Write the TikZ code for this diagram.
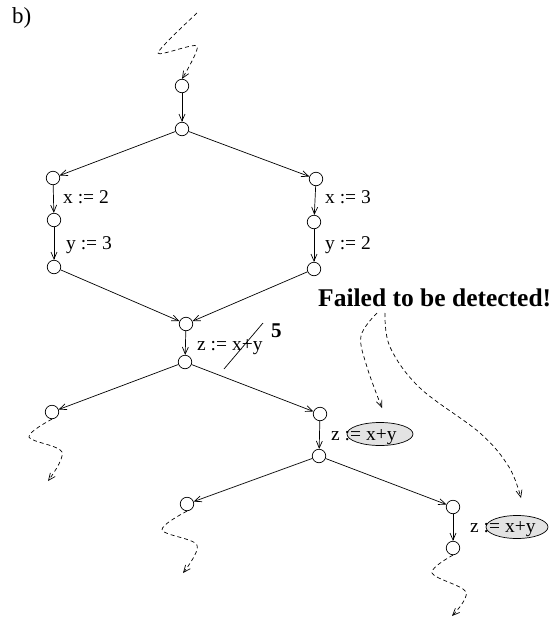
\documentclass[tikz,border=0pt]{standalone}
\usepackage{fontspec}
\setmainfont{Liberation Serif}
\usetikzlibrary{arrows.meta,shapes.geometric}
\begin{document}
\begin{tikzpicture}[x=1pt,y=-1pt,
  state/.style={circle,draw,minimum size=13.5pt,inner sep=0pt,line width=0.7pt},
  flow/.style={-{Straight Barb[length=7pt,width=6pt]},line width=0.7pt},
  squig/.style={flow,dash pattern=on 4pt off 3pt},
  lab/.style={anchor=base west,inner sep=0pt,font=\fontsize{19.5}{20}\selectfont},
  big/.style={anchor=base west,inner sep=0pt,font=\bfseries\fontsize{25.5}{26}\selectfont},
  hl/.style={ellipse,draw,fill=gray!22,line width=0.7pt,inner sep=0pt,minimum height=23pt}]
\useasboundingbox (0,0) rectangle (557,619);

% panel tag
\node[anchor=base west,inner sep=0pt,font=\fontsize{23}{23}\selectfont] (tag) at (12,23) {b)};

% states
\node[state] (n1) at (182,86) {};
\node[state] (n2) at (182,129) {};
\node[state] (l1) at (53,178) {};
\node[state] (l2) at (54,220) {};
\node[state] (l3) at (54,267) {};
\node[state] (r1) at (316,179) {};
\node[state] (r2) at (314,222) {};
\node[state] (r3) at (314,269) {};
\node[state] (m1) at (186,324) {};
\node[state] (m2) at (185,362) {};
\node[state] (b1) at (52,412) {};
\node[state] (c1) at (320,414) {};
\node[state] (c2) at (319,456) {};
\node[state] (d1) at (187,504) {};
\node[state] (d2) at (453,507) {};
\node[state] (d3) at (453,548) {};

% highlighted expressions
\node[hl,minimum width=66pt] (e1) at (380,434) {};
\node[hl,minimum width=62pt] (e2) at (517,527) {};

% statement labels
\node[lab] (lx2) at (63,203) {x := 2};
\node[lab] (ly3) at (66,249) {y := 3};
\node[lab] (rx3) at (325,203) {x := 3};
\node[lab] (ry2) at (325,249) {y := 2};
\node[lab] (mz) at (197,350) {z := x+y};
\node[lab] (cz) at (331,440) {z := x+y};
\node[lab] (dz) at (470,532) {z := x+y};

% crossed-out value
\coordinate (s1) at (224,369);
\coordinate (s2) at (263,323);
\draw[line width=0.7pt] (s1) -- (s2);
\node[anchor=base west,inner sep=0pt,font=\bfseries\fontsize{21}{21}\selectfont] (five) at (271,337) {5};

\node[big] (fail) at (318,306) {Failed to be detected!};

% control flow
\draw[flow] (n1) -- (n2);
\draw[flow] (n2) -- (l1);
\draw[flow] (n2) -- (r1);
\draw[flow] (l1) -- (l2);
\draw[flow] (l2) -- (l3);
\draw[flow] (r1) -- (r2);
\draw[flow] (r2) -- (r3);
\draw[flow] (l3) -- (m1);
\draw[flow] (r3) -- (m1);
\draw[flow] (m1) -- (m2);
\draw[flow] (m2) -- (b1);
\draw[flow] (m2) -- (c1);
\draw[flow] (c1) -- (c2);
\draw[flow] (c2) -- (d1);
\draw[flow] (c2) -- (d2);
\draw[flow] (d2) -- (d3);

% elided paths
\draw[squig] plot[smooth,tension=0.45] coordinates {(197,13) (158,53) (197,46) (n1.north)};
\draw[squig] plot[smooth,tension=0.55] coordinates {(b1.south) (29,437) (62,452) (48,481)};
\draw[squig] plot[smooth,tension=0.55] coordinates {(d1.south) (162,530) (197,545) (183,573)};
\draw[squig] plot[smooth,tension=0.55] coordinates {(d3.south) (432,573) (466,592) (452,616)};

% pointers from the remark
\draw[squig] plot[smooth,tension=0.6] coordinates {(377,313) (361,336) (367,367) (382,408)};
\draw[squig] plot[smooth,tension=0.6] coordinates {(385,313) (390,347) (420,388) (480,433) (509,467) (521,498)};
\end{tikzpicture}
\end{document}
